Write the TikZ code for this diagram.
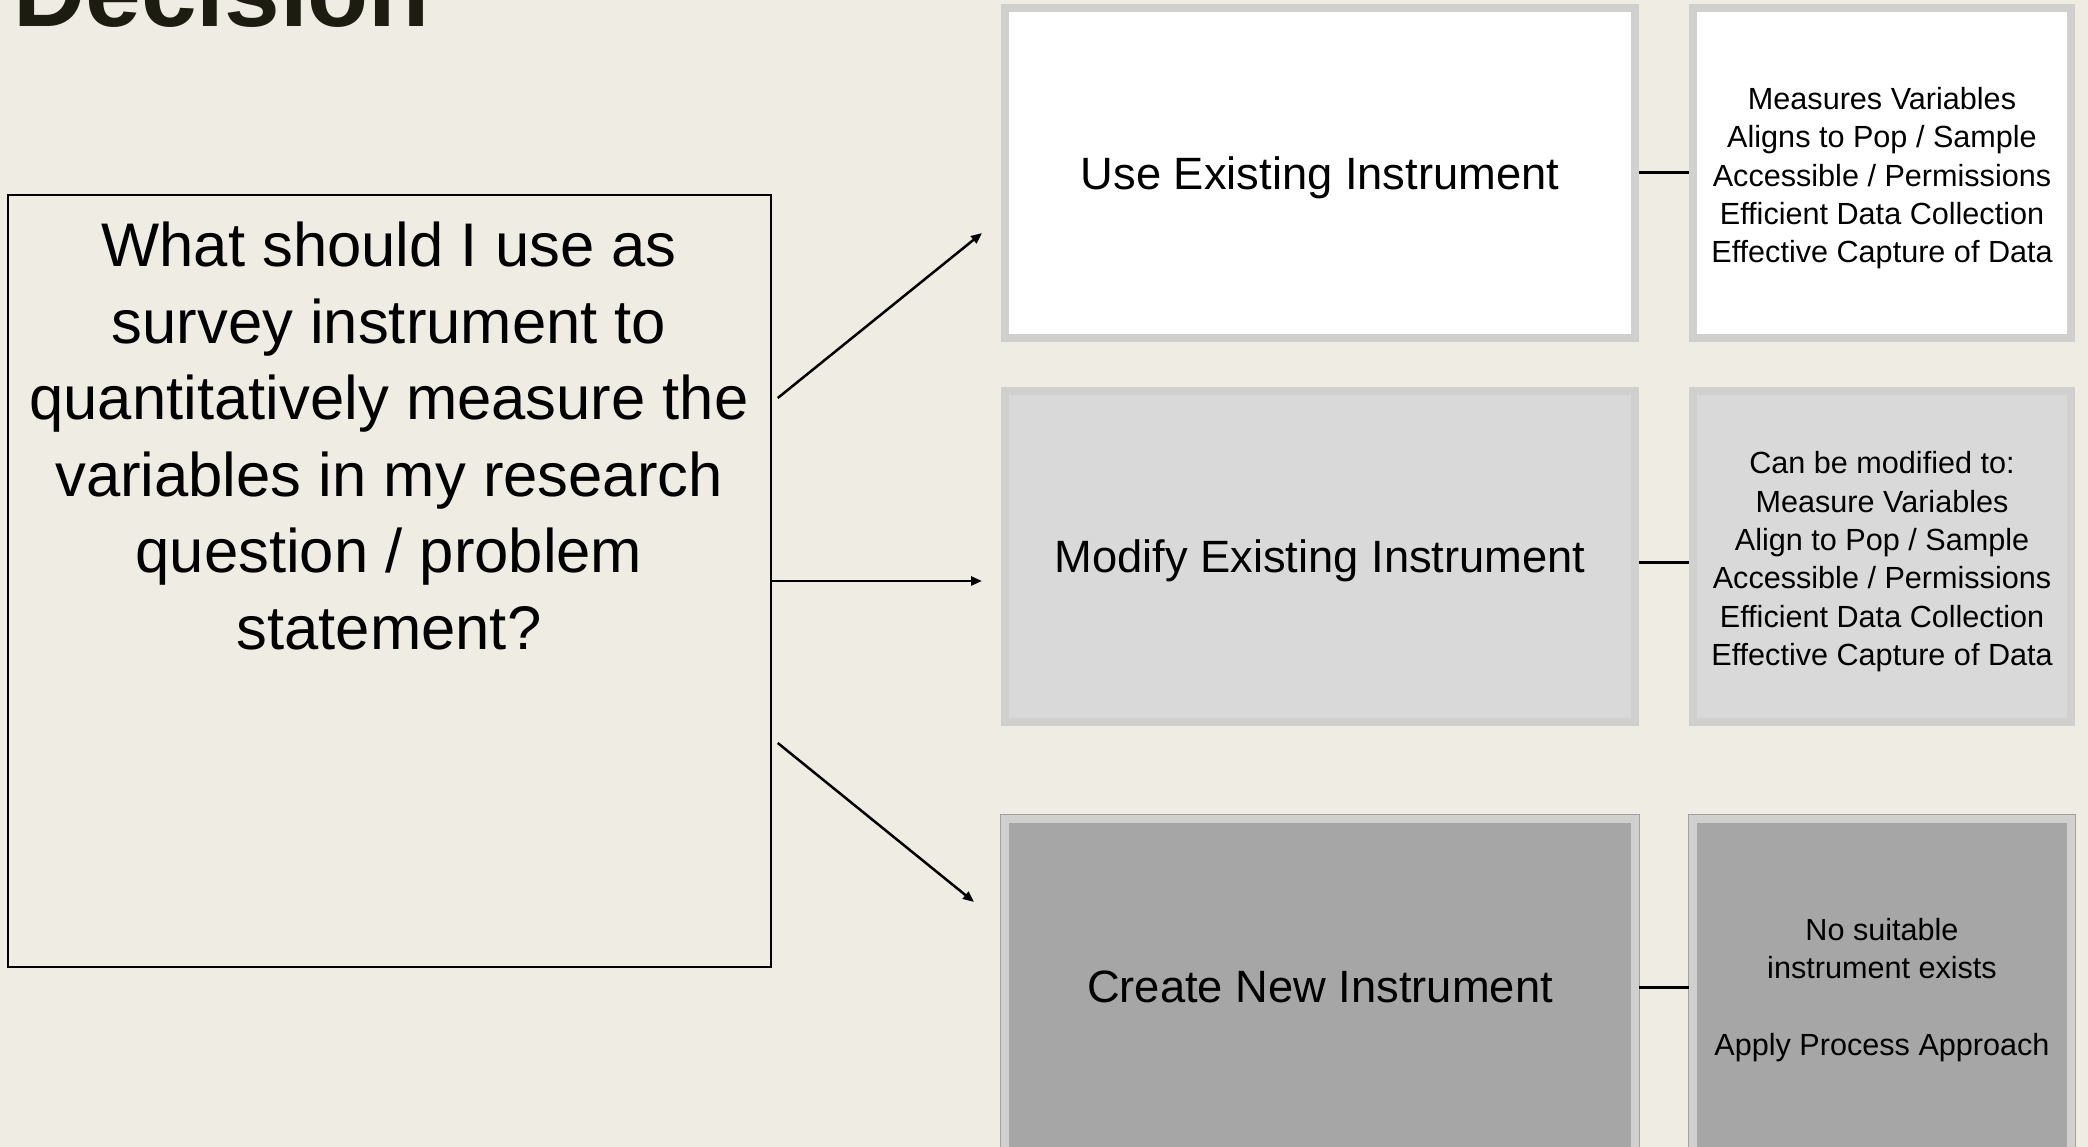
\documentclass[tikz,border=0pt]{standalone}
\usepackage{fontspec}
\setmainfont{Liberation Sans}
\usetikzlibrary{arrows.meta,calc}
\definecolor{bg}{RGB}{239,236,228}
\definecolor{titlec}{RGB}{28,28,16}
\definecolor{rimc}{RGB}{208,208,206}
\definecolor{rimdark}{RGB}{160,160,160}
\definecolor{midfill}{RGB}{217,217,217}
\definecolor{darkfill}{RGB}{166,166,166}
\newcommand{\liftstrut}[1]{\rule{0pt}{#1}}
\begin{document}
\begin{tikzpicture}[x=1pt,y=-1pt,
  box/.style={rectangle, draw=rimc, line width=8pt, inner sep=0pt, align=center, text=black},
  bigbox/.style={box, minimum width=630pt, font=\fontsize{45.3}{54}\selectfont},
  smallbox/.style={box, minimum width=378pt, font=\fontsize{30.6}{38.3}\selectfont},
  rimmed/.style={preaction={draw=rimdark, line width=10pt}},
  arr/.style={line width=2.5pt, -{Triangle[length=11pt,width=9pt]}},
  link/.style={line width=3pt}]
\useasboundingbox (0,0) rectangle (2088,1147);
\clip (0,0) rectangle (2088,1147);
\fill[bg] (0,0) rectangle (2088,1147);

% title
\node[anchor=base west, inner sep=0pt, text=titlec, font=\bfseries\fontsize{100}{116}\selectfont] (title) at (13,27) {Decision};

% question box
\node[rectangle, draw=black, line width=2.5pt, minimum width=763pt, minimum height=771.5pt, inner sep=0pt] (q) at (389.5,581) {};
\node[align=center, inner sep=0pt, font=\fontsize{61.6}{76.6}\selectfont] (qtext) at (389,436)
  {What should I use as\\survey instrument to\\quantitatively measure the\\variables in my research\\question / problem\\statement?};

% option boxes
\node[bigbox, fill=white, minimum height=330pt, text depth=0pt] (b1) at (1320,173) {Use Existing Instrument};
\node[bigbox, fill=midfill, minimum height=331pt, text depth=0pt] (b2) at (1320,556.5) {Modify Existing Instrument};
\node[bigbox, fill=darkfill, rimmed, minimum height=336pt] (b3) at (1320,987) {Create New Instrument};

% detail boxes
\node[smallbox, fill=white, minimum height=330pt] (r1) at (1882,173)
  {\liftstrut{32.5pt}Measures Variables\\Aligns to Pop / Sample\\Accessible / Permissions\\Efficient Data Collection\\Effective Capture of Data};
\node[smallbox, fill=midfill, minimum height=331pt] (r2) at (1882,556.5)
  {\liftstrut{32.5pt}Can be modified to:\\Measure Variables\\Align to Pop / Sample\\Accessible / Permissions\\Efficient Data Collection\\Effective Capture of Data};
\node[smallbox, fill=darkfill, rimmed, minimum height=336pt] (r3) at (1882,987)
  {\liftstrut{27.5pt}No suitable\\instrument exists\\[38.3pt]Apply Process Approach};

% arrows
\draw[arr] ([shift={(5.5,-183)}]q.east) -- ([shift={(-19,60)}]b1.west);
\draw[arr] (q.east) -- ([xshift=-19pt]b2.west |- q.east);
\draw[arr] ([shift={(5.5,162)}]q.east) -- ([shift={(-27,-85)}]b3.west);

% links
\draw[link] (b1.east) -- (r1.west);
\draw[link] ([yshift=-5.5pt]b2.east) -- ([yshift=-5.5pt]r2.west);
\draw[link] (b3.east) -- (r3.west);
\end{tikzpicture}
\end{document}
